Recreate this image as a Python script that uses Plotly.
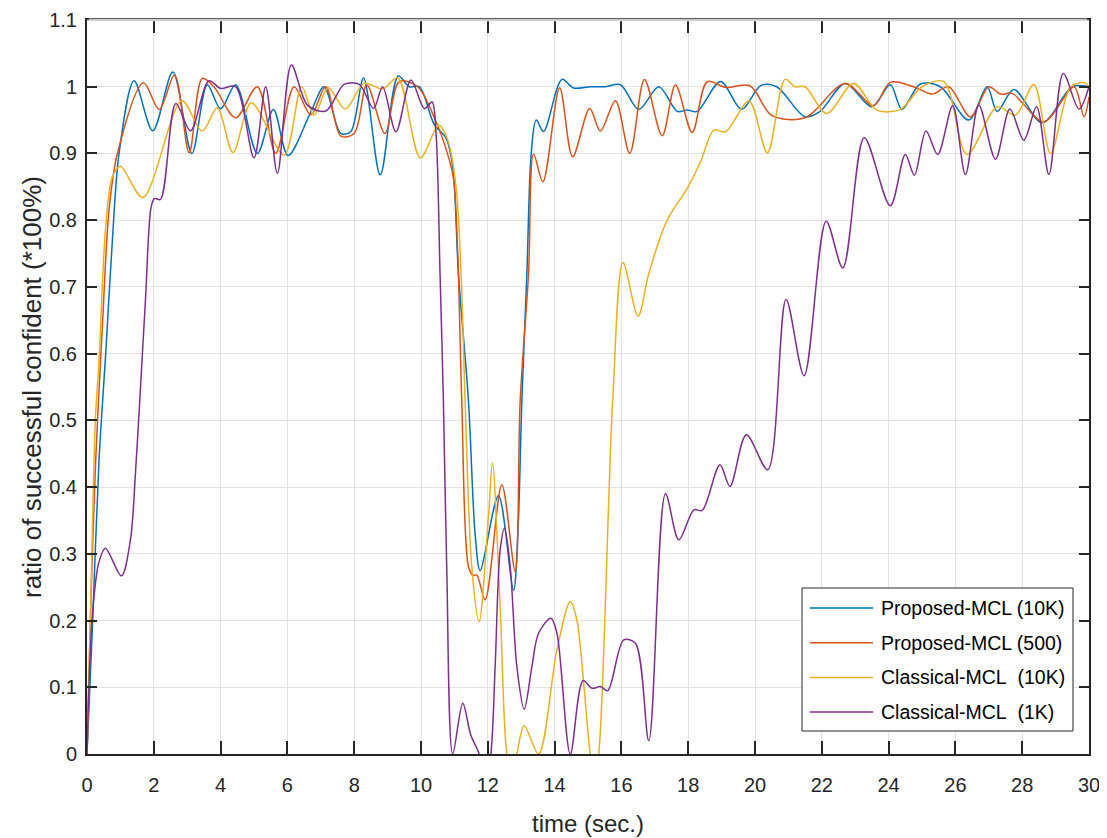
import plotly.graph_objects as go

# ---------------- data ----------------
prop10k_t = [0, 0.17, 0.36, 0.56, 0.76, 0.96, 1.41, 1.97, 2.57, 3.14, 3.6, 4.0, 4.45, 5.1, 5.58, 6.02,
             6.7, 7.1, 7.6, 7.9, 8.28, 8.78, 9.32, 9.65, 9.95, 10.4, 10.75, 10.95, 11.12, 11.42, 11.62,
             11.77, 12.32, 12.77, 12.9, 13.02, 13.17, 13.3, 13.45, 13.67, 14.22, 14.57, 15.07, 15.52,
             15.97, 16.52, 17.12, 17.67, 17.97, 18.27, 18.97, 19.6, 20.18, 20.65, 21.5, 21.95, 22.7,
             23.5, 24.05, 24.4, 24.95, 25.55, 26.4, 26.95, 27.25, 27.75, 28.6, 29.5, 30]
prop10k_v = [0, 0.2, 0.44, 0.6, 0.77, 0.9, 1.009, 0.934, 1.022, 0.9, 1.003, 0.967, 1.003, 0.9, 0.966, 0.897,
             0.962, 1.0, 0.93, 0.933, 1.013, 0.868, 1.016, 1.0, 1.0, 0.943, 0.923, 0.88, 0.72, 0.53, 0.33,
             0.275, 0.3875, 0.245, 0.33, 0.53, 0.72, 0.9, 0.95, 0.933, 1.011, 0.998, 1.0, 1.0,
             1.003, 0.966, 1.0, 0.963, 0.965, 0.963, 1.008, 0.966, 1.002, 1.0, 0.955, 0.963, 1.005,
             0.97, 1.003, 0.966, 1.004, 1.0, 0.95, 1.0, 0.963, 0.996, 0.946, 1.0, 1.0]

prop500_t = [0, 0.1, 0.26, 0.46, 0.66, 0.91, 1.69, 2.16, 2.62, 3.06, 3.45, 3.8, 4.45, 5.1, 5.65, 6.2,
             6.7, 7.15, 7.6, 8.0, 8.38, 8.92, 9.35, 9.9, 10.45, 10.85, 10.98, 11.1, 11.22, 11.42, 11.55,
             11.67, 11.92, 12.42, 12.82, 12.97, 13.22, 13.37, 13.65, 14.15, 14.54, 15.05, 15.37, 15.82,
             16.25, 16.69, 17.22, 17.62, 18.12, 18.57, 19.12, 19.85, 20.5, 21.5, 22.7, 23.55, 24.05,
             24.75, 25.3, 25.8, 26.45, 27.0, 27.35, 27.7, 28.65, 29.55, 29.85, 30]
prop500_v = [0, 0.2, 0.44, 0.64, 0.815, 0.9, 1.006, 0.966, 1.0175, 0.901, 1.0125, 1.0, 0.9535, 1.0, 0.9, 1.0,
             0.958, 1.0, 0.926, 0.93, 1.0025, 0.93, 1.0075, 1.0, 0.9475, 0.89, 0.86, 0.75, 0.53, 0.281, 0.268,
             0.268, 0.231, 0.4035, 0.2735, 0.53, 0.72, 0.899, 0.8575, 0.9985, 0.895, 0.9675, 0.9335, 0.979,
             0.9, 1.011, 0.9265, 1.0025, 0.9315, 1.0075, 0.999, 1.0015, 0.957, 0.9535, 1.005, 0.9715, 1.0065,
             1.0, 0.989, 1.0, 0.955, 1.0, 0.989, 0.99, 0.9475, 1.0, 0.955, 0.985]

class10k_t = [0, 0.1, 0.25, 0.36, 0.56, 0.76, 1.0, 1.67, 2.84, 3.45, 3.9, 4.37, 4.92, 5.9, 6.43, 6.8,
              7.22, 7.73, 8.3, 8.85, 9.3, 9.98, 10.53, 10.8, 11.05, 11.2, 11.32, 11.52, 11.74, 12.02,
              12.14, 12.37, 12.57, 12.72, 12.87, 13.09, 13.52, 14.07, 14.47, 14.67, 14.87, 15.07, 15.2,
              15.32, 15.74, 16.05, 16.5, 16.82, 17.37, 17.97, 18.37, 18.77, 19.12, 19.82, 20.37, 20.9,
              21.2, 21.5, 22.15, 22.95, 23.65, 24.35, 25.0, 25.65, 26.35, 27.25, 27.8, 28.35, 28.85,
              29.45, 29.85, 30]
class10k_v = [0, 0.2, 0.5, 0.59, 0.79, 0.865, 0.881, 0.834, 0.979, 0.9335, 0.9685, 0.9015, 0.976, 0.8975, 1.0, 0.9575,
              0.9985, 0.9665, 1.005, 0.9965, 1.0135, 0.8935, 0.9425, 0.92, 0.85, 0.72, 0.53, 0.28, 0.1985, 0.356,
              0.436, 0.22, 0.0, -0.03, 0.0, 0.0425, 0.0, 0.156, 0.2285, 0.2, 0.106, 0.0, -0.03,
              0.0, 0.53, 0.7365, 0.656, 0.72, 0.8, 0.8475, 0.8875, 0.935, 0.9325, 0.9785, 0.901, 1.011,
              1.0, 1.0, 0.96, 1.005, 0.965, 0.966, 1.0, 1.0075, 0.8985, 0.97, 0.9575, 1.0035, 0.9,
              1.0, 1.006, 1.0]

class1k_t = [0, 0.15, 0.35, 0.55, 1.03, 1.3, 1.45, 1.58, 1.75, 1.92, 2.02, 2.2, 2.66, 3.1, 3.65, 4.0,
             4.45, 5.0, 5.35, 5.7, 6.12, 6.6, 7.15, 7.7, 8.15, 8.58, 8.85, 9.25, 9.7, 10.1, 10.33, 10.45,
             10.57, 10.67, 10.77, 10.95, 11.25, 11.49, 11.74, 11.9, 12.09, 12.22, 12.37, 12.5, 12.67,
             12.87, 13.09, 13.32, 13.52, 13.89, 14.07, 14.47, 14.85, 15.12, 15.37, 15.59, 16.07, 16.42,
             16.82, 17.32, 17.72, 18.17, 18.42, 18.95, 19.25, 19.74, 20.38, 20.93, 21.47, 22.13, 22.63,
             23.27, 24.05, 24.5, 24.77, 25.12, 25.47, 25.92, 26.3, 26.7, 27.2, 27.63, 28.05, 28.43, 28.8,
             29.23, 29.7, 30]
class1k_v = [0, 0.2, 0.286, 0.3085, 0.267, 0.321, 0.42, 0.53, 0.68, 0.82, 0.8325, 0.831, 0.975, 0.934, 1.009, 0.9975,
             1.0, 0.8935, 1.0, 0.87, 1.0325, 0.9725, 0.9635, 1.0035, 1.0035, 0.9675, 1.0, 0.9325, 1.01, 0.9675, 0.977, 0.93,
             0.72, 0.53, 0.28, 0.0, 0.076, 0.0285, 0.0, -0.05, 0.0, 0.131, 0.306, 0.3385, 0.281,
             0.131, 0.067, 0.131, 0.181, 0.2035, 0.181, 0.0, 0.11, 0.0985, 0.101, 0.095, 0.171, 0.166,
             0.02, 0.39, 0.321, 0.366, 0.365, 0.4335, 0.401, 0.4785, 0.426, 0.681, 0.567, 0.7985, 0.7285,
             0.9235, 0.8215, 0.8985, 0.8675, 0.9335, 0.8985, 0.9715, 0.8685, 0.9725, 0.8915, 0.9665, 0.92, 0.97, 0.8685,
             1.02, 0.9665, 1.0]

series_names = ["Proposed-MCL (10K)", "Proposed-MCL (500)", "Classical-MCL  (10K)", "Classical-MCL  (1K)"]
series_colors = ["#0072BD", "#D95319", "#EDB120", "#7E2F8E"]

x_ticks = list(range(0, 31, 2))
y_ticks = [0, 0.1, 0.2, 0.3, 0.4, 0.5, 0.6, 0.7, 0.8, 0.9, 1.0, 1.1]
y_tick_text = ["0", "0.1", "0.2", "0.3", "0.4", "0.5", "0.6", "0.7", "0.8", "0.9", "1", "1.1"]

# ---------------- figure ----------------
FONT = "Liberation Sans, Arial, Helvetica, sans-serif"
TXT = "#262626"
BODY = 8                      # default page margin of the html body
W, H = 1107 - BODY, 838 - BODY
ML, MR, MT, MB = 87 - BODY, 18, 20 - BODY, 84
PW, PH = W - ML - MR, H - MT - MB


def px_x(px):  # page pixel -> paper x
    return (px - BODY - ML) / PW


def px_y(py):  # page pixel -> paper y
    return (H - MB - (py - BODY)) / PH


fig = go.Figure()
for (tx, vy), name, col in zip(
        [(prop10k_t, prop10k_v), (prop500_t, prop500_v), (class10k_t, class10k_v), (class1k_t, class1k_v)],
        series_names, series_colors):
    fig.add_trace(go.Scatter(x=tx, y=vy, mode="lines", name=name, showlegend=False,
                             line=dict(color=col, width=1.5, shape="spline", smoothing=0.9)))

axis_common = dict(showline=True, linecolor=TXT, linewidth=2, mirror="allticks",
                   ticks="inside", tickcolor=TXT, tickwidth=2, automargin=False,
                   showgrid=True, gridcolor="#e3e3e3", gridwidth=1, zeroline=False,
                   tickfont=dict(family=FONT, size=20, color=TXT))

fig.update_xaxes(range=[0, 30], tickvals=x_ticks, ticklen=13, ticklabelstandoff=12,
                 title=dict(text="time (sec.)", font=dict(family=FONT, size=24, color=TXT), standoff=20),
                 **axis_common)
fig.update_yaxes(range=[0, 1.1], tickvals=y_ticks, ticktext=y_tick_text, ticklen=10, ticklabelstandoff=4,
                 title=dict(text="ratio of successful confident (*100%)", font=dict(family=FONT, size=26, color=TXT),
                            standoff=0),
                 **axis_common)

shapes = []
# top edge of the box is a thin grey line in the reference
shapes.append(dict(type="line", xref="paper", yref="paper", x0=0.002, x1=0.998, y0=1, y1=1,
                   line=dict(color="white", width=2.5), layer="above"))
shapes.append(dict(type="line", xref="paper", yref="paper", x0=0, x1=1, y0=1, y1=1,
                   line=dict(color="#9a9a9a", width=1), layer="above"))

# ---- custom MATLAB-like legend box ----
shapes.append(dict(type="rect", xref="paper", yref="paper",
                   x0=px_x(802), x1=px_x(1073), y0=px_y(731), y1=px_y(588),
                   line=dict(color=TXT, width=1), fillcolor="white", layer="above"))
annotations = []
for i, (name, col) in enumerate(zip(series_names, series_colors)):
    yc = px_y(608 + i * 34.7)
    shapes.append(dict(type="line", xref="paper", yref="paper",
                       x0=px_x(810), x1=px_x(873), y0=yc, y1=yc,
                       line=dict(color=col, width=1.5), layer="above"))
    annotations.append(dict(xref="paper", yref="paper", x=px_x(879), y=yc, xanchor="left", yanchor="middle",
                            text=name.replace("  ", "&nbsp; "), showarrow=False,
                            font=dict(family=FONT, size=19.5, color="#000000")))

fig.update_layout(
    width=W, height=H,
    margin=dict(l=ML, r=MR, t=MT, b=MB),
    paper_bgcolor="white", plot_bgcolor="white",
    font=dict(family=FONT, color=TXT),
    shapes=shapes, annotations=annotations,
    showlegend=False,
)

fig.write_html("out.html")
